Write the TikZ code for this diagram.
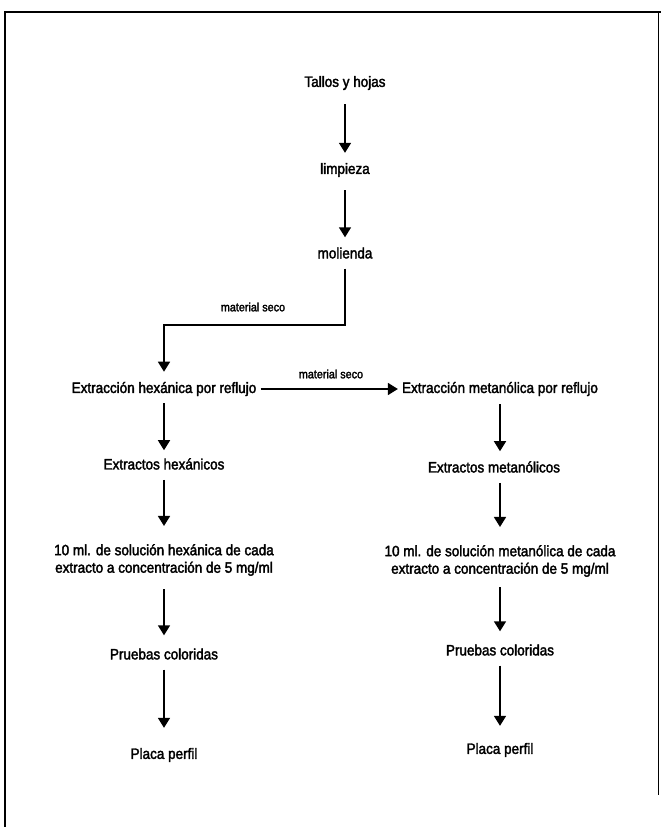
\documentclass[tikz,border=0pt]{standalone}
\usepackage{fontspec}
\setmainfont{Liberation Sans}[FakeBold=2.2, FakeStretch=0.9]
\usetikzlibrary{arrows.meta}
\begin{document}
\begin{tikzpicture}[x=1pt,y=-1pt,
  lbl/.style={font=\fontsize{15}{17.5}\selectfont, inner xsep=4pt, inner ysep=10pt, align=center},
  small/.style={font=\fontsize{12}{14}\selectfont, inner sep=1pt},
  arr/.style={line width=1.6pt, -{Triangle[width=12pt,length=10pt]}},
  frame/.style={line width=1.6pt}]
\useasboundingbox (0,0) rectangle (661,827);
% frame
\coordinate (tl) at (5,12);
\coordinate (tr) at (658,12);
\coordinate (bl) at (5,827);
\coordinate (br) at (658,795);
\draw[frame] (bl) -- (tl) -- (661,12);
\draw[line width=1pt] (tr) -- (br);
% nodes
\node[lbl] (tallos) at (345,83) {Tallos y hojas};
\node[lbl] (limp) at (345,170) {limpieza};
\node[lbl] (mol) at (345,253) {molienda};
\node[lbl] (hex) at (164,389) {Extracción hexánica por reflujo};
\node[lbl] (met) at (500,389) {Extracción metanólica por reflujo};
\node[lbl] (exh) at (164,464) {Extractos hexánicos};
\node[lbl] (exm) at (494,467) {Extractos metanólicos};
\node[lbl] (solh) at (164,560) {10 ml. de solución hexánica de cada\\extracto a concentración de 5 mg/ml};
\node[lbl] (solm) at (500,561) {10 ml. de solución metanólica de cada\\extracto a concentración de 5 mg/ml};
\node[lbl] (prh) at (164,654) {Pruebas coloridas};
\node[lbl] (prm) at (500,650) {Pruebas coloridas};
\node[lbl] (plh) at (164,755) {Placa perfil};
\node[lbl] (plm) at (500,750) {Placa perfil};
\node[small] (ms1) at (253,307) {material seco};
\node[small] (ms2) at (331,374) {material seco};
\coordinate (c1) at (345,325);
% connectors
\draw[arr, shorten <=4pt] (tallos) -- (limp);
\draw[arr, shorten <=3pt] (limp) -- (mol);
\draw[arr] (mol) -- (c1) -| (hex);
\draw[arr] (hex.east) -- (met.west);
\draw[arr, shorten <=-3pt, shorten >=-2pt] (hex) -- (exh);
\draw[arr, shorten >=8pt] (exh) -- (solh);
\draw[arr, shorten <=3pt, shorten >=3pt] (solh) -- (prh);
\draw[arr, shorten >=10pt] (prh) -- (plh);
\draw[arr, shorten <=-2pt] (met.south) -- (met.south |- exm.north);
\draw[arr, shorten >=8pt] (exm.south -| met.south) -- (solm);
\draw[arr, shorten >=3pt] (solm) -- (prm);
\draw[arr, shorten >=7pt] (prm) -- (plm);
\end{tikzpicture}
\end{document}
